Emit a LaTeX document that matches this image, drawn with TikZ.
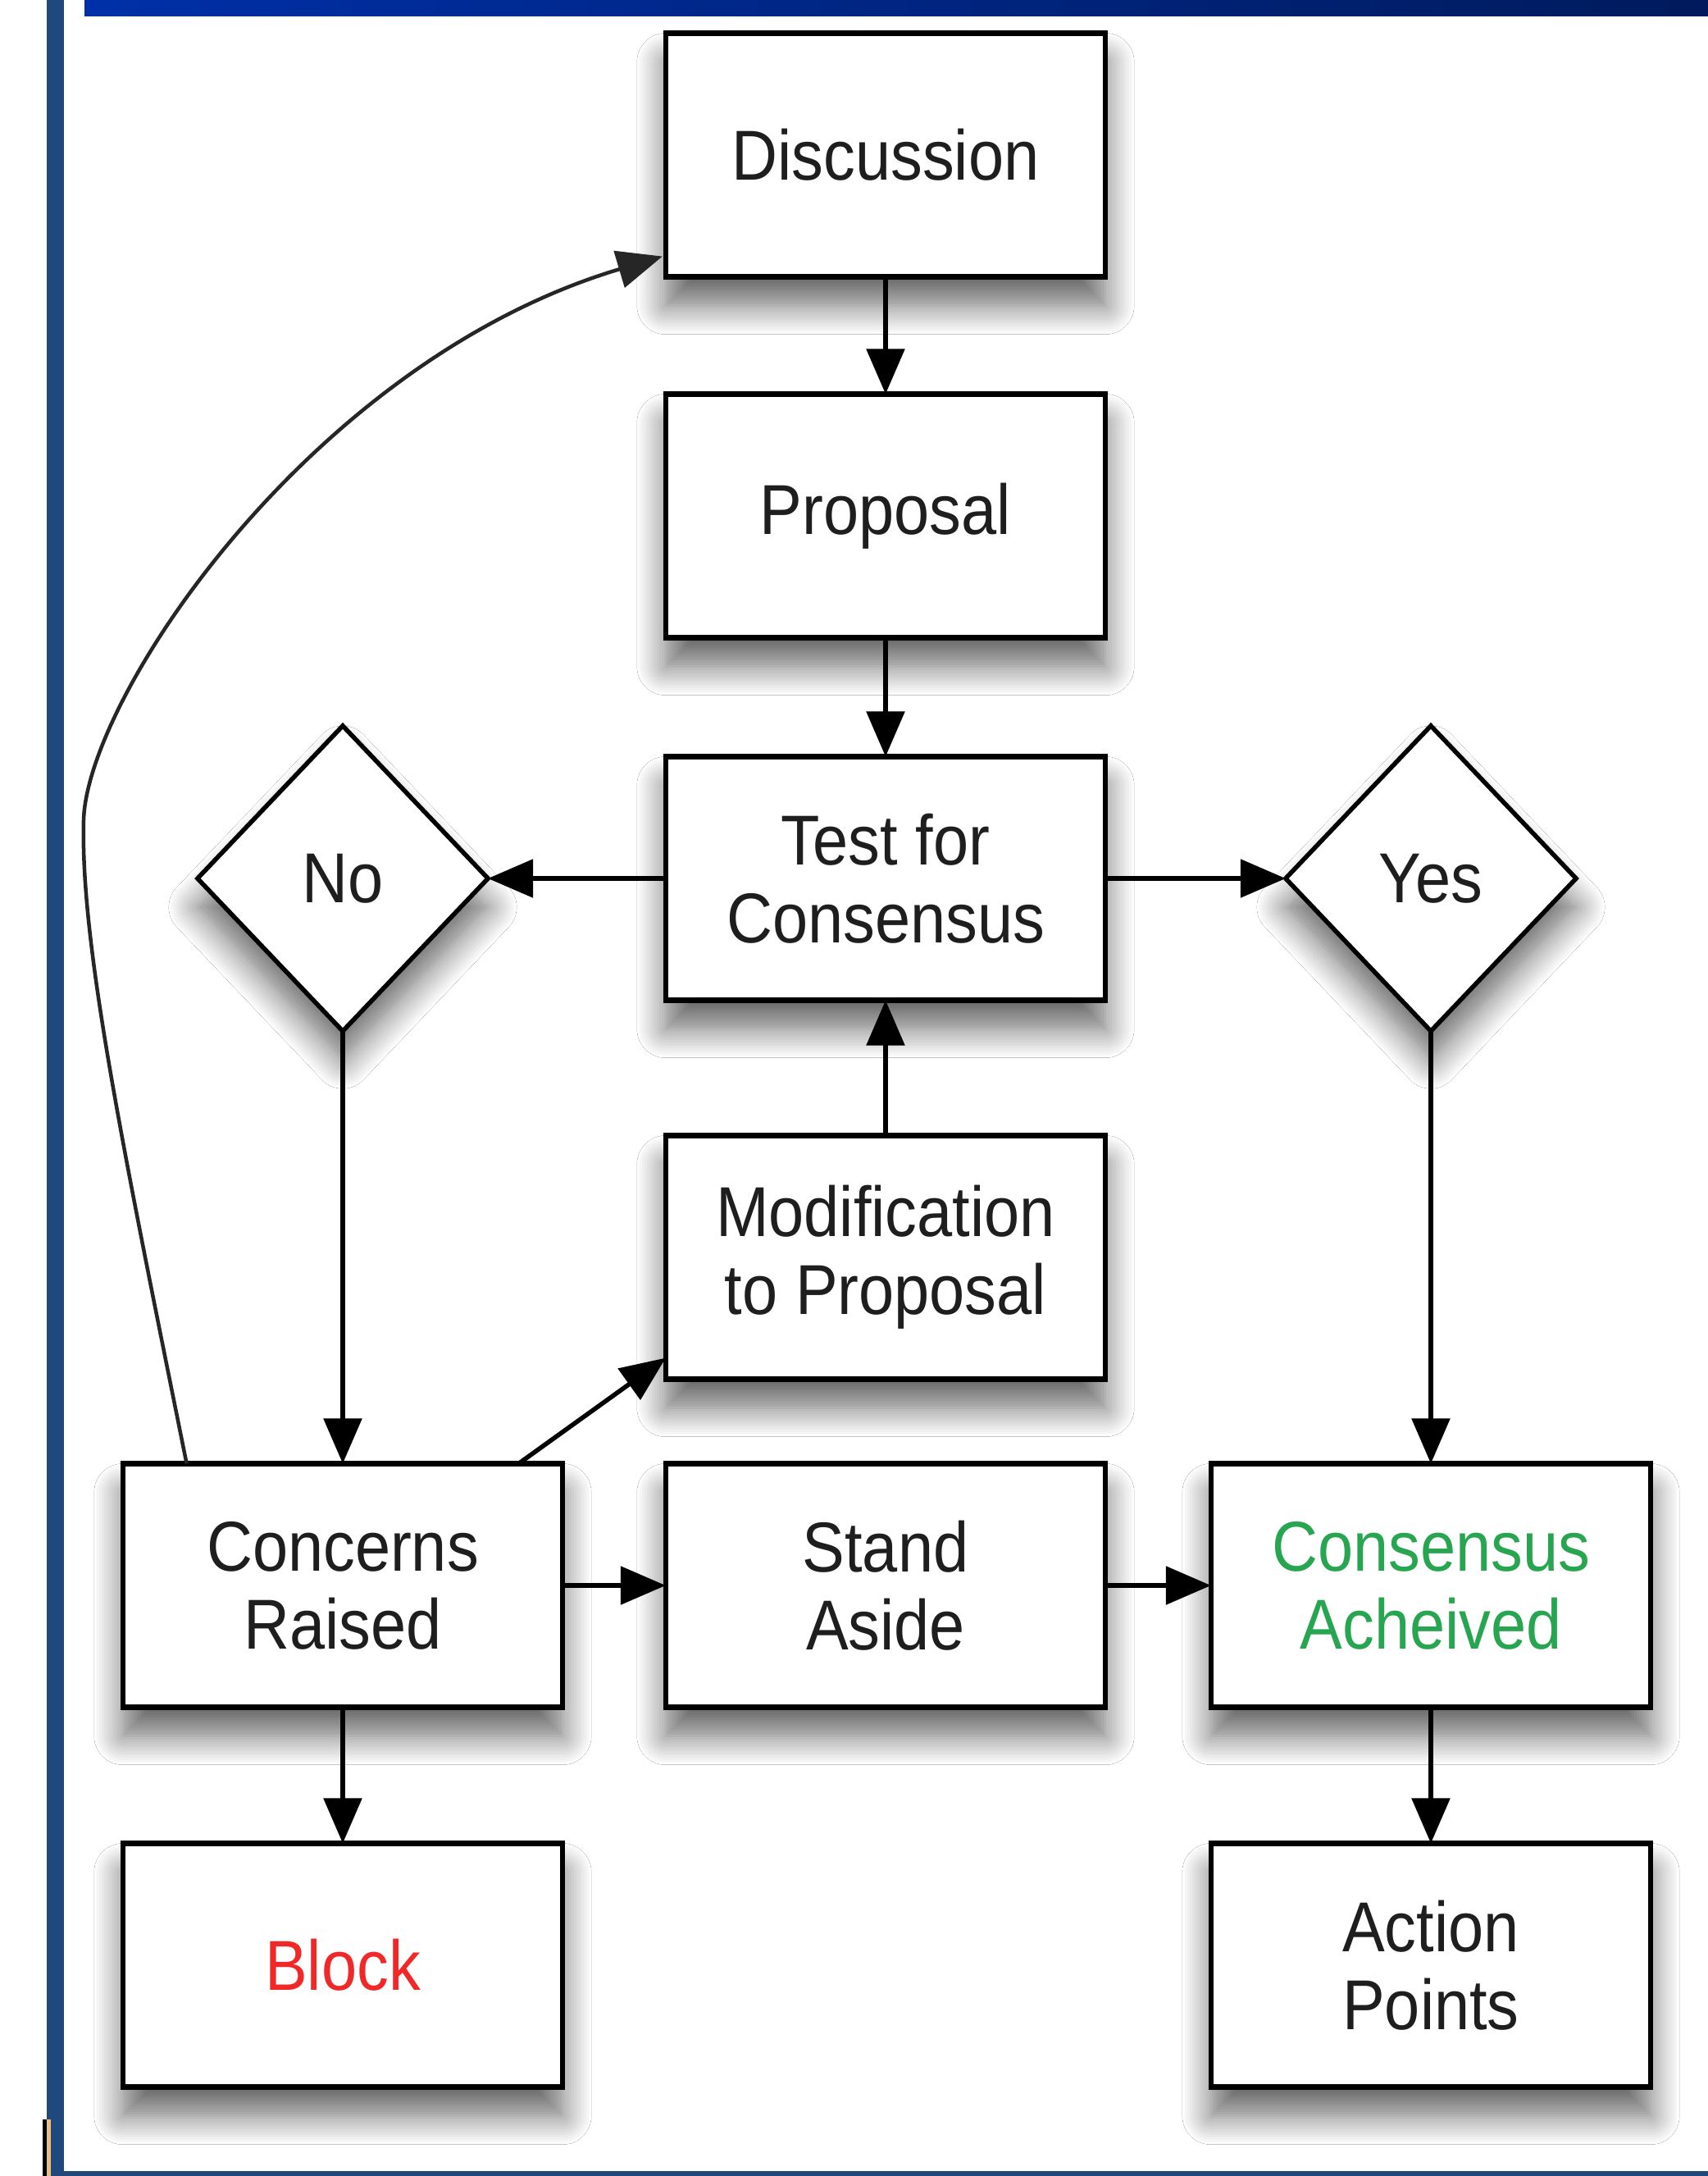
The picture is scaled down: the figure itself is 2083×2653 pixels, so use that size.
\documentclass[tikz,border=0pt]{standalone}
\usepackage{fontspec}
\setmainfont{Liberation Sans}[FakeStretch=0.9]
\usetikzlibrary{shapes.geometric,arrows.meta,shadows.blur,calc}
\definecolor{band1}{RGB}{0,48,168}
\definecolor{band2}{RGB}{0,26,92}
\definecolor{frameblue}{RGB}{31,73,125}
\definecolor{txt}{RGB}{30,30,30}
\definecolor{blockred}{RGB}{240,40,40}
\definecolor{okgreen}{RGB}{40,165,80}
\definecolor{tan}{RGB}{232,190,130}
\tikzset{
  shad/.style={blur shadow={shadow xshift=0cm, shadow yshift=-0.35cm, shadow blur radius=0.35cm, shadow blur steps=12, shadow opacity=60}},
  box/.style={draw=black, line width=0.065cm, fill=white, minimum width=5.36cm, minimum height=2.97cm,
    inner sep=0pt, outer sep=0pt, align=center, text=txt, font=\fontsize{24.5}{27}\selectfont, shad},
  dia/.style={diamond, draw=black, line width=0.055cm, fill=white, minimum width=3.54cm, minimum height=3.72cm,
    inner sep=0pt, outer sep=0pt, text=txt, font=\fontsize{24.5}{27}\selectfont, shad},
  arr/.style={line width=0.055cm, draw=black, -{Triangle[length=0.55cm,width=0.46cm]}},
  curvearr/.style={line width=0.045cm, draw=black!85, -{Triangle[length=0.55cm,width=0.46cm]}},
}
\begin{document}
\begin{tikzpicture}[x=0.01cm,y=-0.01cm]
\useasboundingbox (0,0) rectangle (2083,2653);
\fill[white] (0,0) rectangle (2083,2653);
% frame
\fill[frameblue] (57,0) rectangle (78,2653);
\fill[frameblue] (57,2647) rectangle (2083,2653);
\shade[left color=band1, right color=band2] (103,0) rectangle (2083,19);
\fill[black] (52,2584) rectangle (57,2653);
\fill[tan] (57,2584) rectangle (62,2653);

% nodes
\node[box] (disc) at (1080,189) {Discussion};
\node[box] (prop) at (1080,629) {Proposal};
\node[box] (test) at (1080,1071) {Test for\\Consensus};
\node[box] (mod) at (1080,1533) {Modification\\to Proposal};
\node[dia] (no) at (418,1071) {No};
\node[dia] (yes) at (1745,1071) {Yes};
\node[box] (conc) at (418,1933) {Concerns\\Raised};
\node[box] (stand) at (1080,1933) {Stand\\Aside};
\node[box, text=okgreen] (cons) at (1745,1933) {Consensus\\Acheived};
\node[box, text=blockred] (block) at (418,2396) {Block};
\node[box] (action) at (1745,2396) {Action\\Points};

% connectors
\draw[arr] (disc) -- (prop);
\draw[arr] (prop) -- (test);
\draw[arr] (test) -- (no);
\draw[arr] (test) -- (yes);
\draw[arr] (mod) -- (test);
\draw[arr] (no) -- (conc);
\draw[arr] (yes) -- (cons);
\draw[arr] (conc) -- (stand);
\draw[arr] (stand) -- (cons);
\draw[arr] (conc) -- (block);
\draw[arr] (cons) -- (action);
\coordinate (cm) at ($(conc.north west)!0.9!(conc.north east)$);
\coordinate (mm) at ($(mod.south west)+(0,-26)$);
\draw[arr] (cm) -- (mm);
\coordinate (cs) at ($(conc.north west)!0.145!(conc.north east)$);
\coordinate (de) at ($(disc.south west)+(-4,-25)$);
\draw[curvearr] (cs) .. controls (150,1400) and (98,1150) .. (102,1000)
  .. controls (106,850) and (380,440) .. (de);
\end{tikzpicture}
\end{document}
